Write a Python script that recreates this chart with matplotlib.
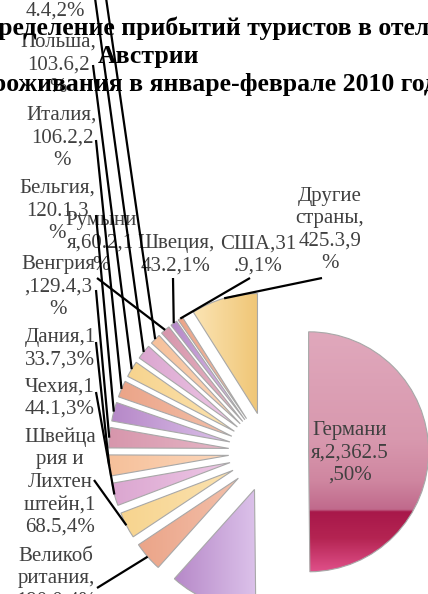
import numpy as np
import matplotlib
matplotlib.use("Agg")
import matplotlib.pyplot as plt
from matplotlib.colors import LinearSegmentedColormap

# data (thousands of arrivals, Jan-Feb 2010)
countries = ["Германия", "Нидерланды", "Великобритания", "Швейцария и Лихтенштейн",
             "Чехия", "Дания", "Венгрия", "Бельгия", "Италия", "Польша",
             "Россия", "Франция", "Румыния", "Швеция", "США", "Другие страны"]
arrivals = [2362.5, 560.0, 190.0, 168.5, 144.1, 133.7, 129.4, 120.1, 106.2, 103.6,
            94.4, 68.0, 60.2, 43.2, 31.9, 425.3]
# how Excel wrapped each label (chars per line), None = label not shown
wraps = [[7, 9], None, [7, 8], [6, 6, 6, 7], [7], [7], [7, 8], [8, 7], [7, 7], [7, 7],
         [8], [8], [6, 8], [7], [6], [6, 8, 7]]

title1 = "Распределение прибытий туристов в отелях"
title2 = "Австрии"
title3 = "по странам проживания в январе-феврале 2010 года"

W, H = 428, 594
fig = plt.figure(figsize=(W / 100, H / 100), dpi=100)
ax = fig.add_axes([0, 0, 1, 1])
ax.axis("off")

def Y(py):
    return H - py

# colour cycle of the Excel style, (left colour, right colour)
cycle = [("#d796ac", "#e6b6c6"), ("#b688c8", "#dcc2ea"), ("#eba488", "#f3c0aa"),
         ("#f7d48e", "#fbe2b0"), ("#dba6d0", "#eec8e6"), ("#f6c09a", "#fcd8bc")]
colors = [cycle[i % 6] for i in range(len(arrivals))]

# explode is in data units here (radius 120 px, pulled out 40 px)
wedges, _ = ax.pie(arrivals, radius=120, center=(268.6, Y(452)), startangle=90,
                   counterclock=False, explode=[40] * len(arrivals),
                   colors=[c[0] for c in colors],
                   wedgeprops=dict(edgecolor="#a8a8a8", linewidth=0.8))

def grad_fill(w, cmap, vertical=False):
    ext = w.get_path().get_extents()
    if vertical:
        arr = np.linspace(0, 1, 256).reshape(256, 1)
    else:
        arr = np.linspace(0, 1, 256).reshape(1, 256)
    im = ax.imshow(arr, cmap=cmap, extent=[ext.x0, ext.x1, ext.y0, ext.y1],
                   origin="upper", aspect="auto", interpolation="bilinear", zorder=1)
    im.set_clip_path(w)
    w.set_facecolor("none")
    w.set_zorder(2)

# Germany: pink with the dark crimson band near the bottom
germ = LinearSegmentedColormap.from_list("germ", [
    (0.0, "#e0a8bc"), (0.45, "#d898ae"), (0.62, "#cf86a0"), (0.74, "#c06a8c"),
    (0.75, "#a8184a"), (0.86, "#b42452"), (1.0, "#e0508a")])
grad_fill(wedges[0], germ, vertical=True)
for i in range(1, len(wedges)):
    c1, c2 = colors[i]
    if i == len(wedges) - 1:
        c1, c2 = "#fbe4b4", "#f0c676"
    grad_fill(wedges[i], LinearSegmentedColormap.from_list("g%d" % i, [c1, c2]))

total = sum(arrivals)

def make_label(i):
    s = "%s,%s,%d%%" % (countries[i], format(arrivals[i], ",.1f"),
                        int(arrivals[i] / total * 100 + 0.5))
    lines = []
    for n in wraps[i]:
        lines.append(s[:n].strip())
        s = s[n:]
    lines.append(s.strip())
    return "\n".join(lines)

# label centre (px) and start of leader line (px)
label_pos = {0: (350, 453), 2: (56, 579), 3: (60, 482), 4: (60, 398), 5: (60, 349),
             6: (58, 287), 7: (57, 211), 8: (62, 138), 9: (58, 65), 10: (55, 0),
             11: (57, -50), 12: (101, 243), 13: (176, 255), 14: (258, 255), 15: (330, 230)}
line_from = {2: (97, 588), 3: (94, 480), 4: (96, 392), 5: (96, 342), 6: (96, 290),
             7: (96, 215), 8: (96, 140), 9: (93, 65), 10: (95, -2), 11: (102, -30),
             12: (97, 278), 13: (173, 278), 14: (250, 278), 15: (322, 278)}

lab_font = dict(family=["Liberation Serif", "DejaVu Serif"], fontsize=15,
                color="#404040", linespacing=1.25)
for i, (px, py) in label_pos.items():
    ax.text(px, Y(py), make_label(i), ha="center", va="center", zorder=5, **lab_font)
for i, (px, py) in line_from.items():
    w = wedges[i]
    mid = np.deg2rad((w.theta1 + w.theta2) / 2)
    ex = w.center[0] + w.r * np.cos(mid)
    ey = w.center[1] + w.r * np.sin(mid)
    ax.plot([px, ex], [Y(py), ey], color="black", lw=1.6, zorder=7,
            solid_capstyle="butt")

# title (the picture is cropped, so the lines run off the edges)
fig.canvas.draw()
rend = fig.canvas.get_renderer()
tfont = dict(family=["Liberation Serif", "DejaVu Serif"], fontsize=18.5,
             fontweight="bold", color="black")

def text_w(s):
    t = ax.text(0, 0, s, **tfont)
    wd = t.get_window_extent(renderer=rend).width
    t.remove()
    return wd

ax.text(-text_w("Расп") - 2, Y(28), title1, ha="left", va="center", zorder=6, **tfont)
ax.text(148.5, Y(57), title2, ha="center", va="center", zorder=6, **tfont)
ax.text(-text_w("по странам п") - 8, Y(85), title3, ha="left", va="center", zorder=6,
        **tfont)

ax.set_xlim(0, W)
ax.set_ylim(0, H)
ax.set_aspect("auto")

fig.savefig("out.png", dpi=100)
